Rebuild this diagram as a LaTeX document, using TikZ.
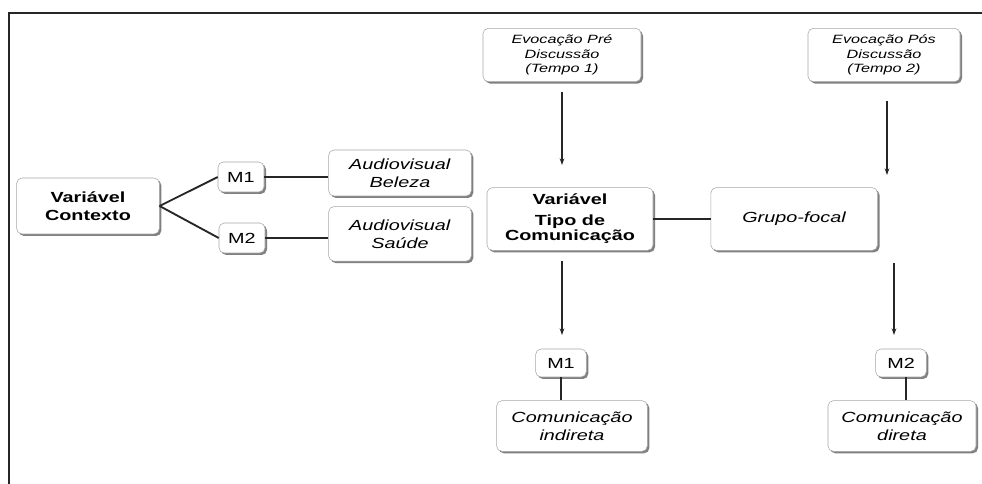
\documentclass[tikz,border=0pt]{standalone}
\usepackage{fontspec}
\setmainfont{Liberation Sans}[FakeStretch=1.35]
\usetikzlibrary{positioning,arrows.meta,shadows}

\begin{document}
\begin{tikzpicture}[x=0.75pt,y=-0.75pt,font=\fontsize{11}{13.5}\selectfont]

  \tikzset{
    box/.style={draw=black!35,fill=white,rounded corners=4pt,align=center,inner sep=1pt,
      drop shadow={shadow xshift=1.5pt,shadow yshift=-1.5pt,fill=black!50,opacity=1}},
    mbox/.style={box,minimum width=34.5pt,minimum height=22.5pt},
    small/.style={font=\fontsize{9}{11}\selectfont},
    ln/.style={draw=black!85,line width=1.4pt},
    arr/.style={ln,-{Stealth[length=5pt,width=3.5pt]}},
  }

   \useasboundingbox (0,0) rectangle (982,484);
   \draw[line width=1.5pt,black!85] (9,484) -- (9,13) -- (982,13);

   % left part
   \node[box,minimum width=107pt,minimum height=42pt] (ctx) at (88,206) {\textbf{Variável}\\\textbf{Contexto}};
   \node[mbox] (m1a) at (241,177) {M1};
   \node[mbox] (m2a) at (242,238) {M2};
   \node[box,minimum width=107pt,minimum height=34.5pt] (bel) at (400,173) {\textit{Audiovisual}\\\textit{Beleza}};
   \node[box,minimum width=107pt,minimum height=41pt] (sau) [below=7.5pt of bel] {\textit{Audiovisual}\\\textit{Saúde}};

   \draw[ln] (ctx.east) -- (m1a.west);
   \draw[ln] (ctx.east) -- (m2a.west);
   \draw[ln] (m1a.east) -- (m1a.east -| bel.west);
   \draw[ln] (m2a.east) -- (m2a.east -| sau.west);

   % right part
   \node[box,small,minimum width=118.5pt,minimum height=40pt] (pre) at (562,55) {\textit{Evocação Pré}\\\textit{Discussão}\\\textit{(Tempo 1)}};
   \node[box,small,minimum width=114pt,minimum height=40pt] (pos) at (884,55) {\textit{Evocação Pós}\\\textit{Discussão}\\\textit{(Tempo 2)}};
   \node[box,minimum width=124.5pt,minimum height=47pt] (tipo) at (570,219) {\textbf{Variável}\\[2pt]\textbf{Tipo de}\\[-2pt]\textbf{Comunicação}};
   \node[box,minimum width=125pt,minimum height=47pt] (foc) [right=43pt of tipo] {\textit{Grupo-focal}};
   \draw[ln] (tipo) -- (foc);

   \coordinate (pretip) at (562,165);
   \coordinate (postip) at (887,175);
   \coordinate (m1tip) at (562,335);
   \coordinate (m2start) at (894,263);
   \coordinate (m2tip) at (894,335);
   \draw[arr,shorten <=7.5pt] (pre.south) -- (pretip);
   \draw[arr,shorten <=14pt] (postip |- pos.south) -- (postip);
   \draw[arr,shorten <=8pt] (m1tip |- tipo.south) -- (m1tip);
   \draw[arr] (m2start) -- (m2tip);

   \node[box,minimum width=113pt,minimum height=38pt] (ind) at (572,426) {\textit{Comunicação}\\\textit{indireta}};
   \node[box,minimum width=111pt,minimum height=38pt] (dir) at (902,426) {\textit{Comunicação}\\\textit{direta}};
   \node[mbox,minimum width=38pt,minimum height=21pt] (m1b) at (561,363) {M1};
   \node[mbox,minimum width=38pt,minimum height=21pt] (m2b) at (901,363) {M2};
   \draw[ln] (m1b) -- (m1b |- ind.north);
   \draw[ln] ([xshift=4pt]m2b.south) -- ([xshift=4pt]m2b.south |- dir.north);

\end{tikzpicture}
\end{document}
